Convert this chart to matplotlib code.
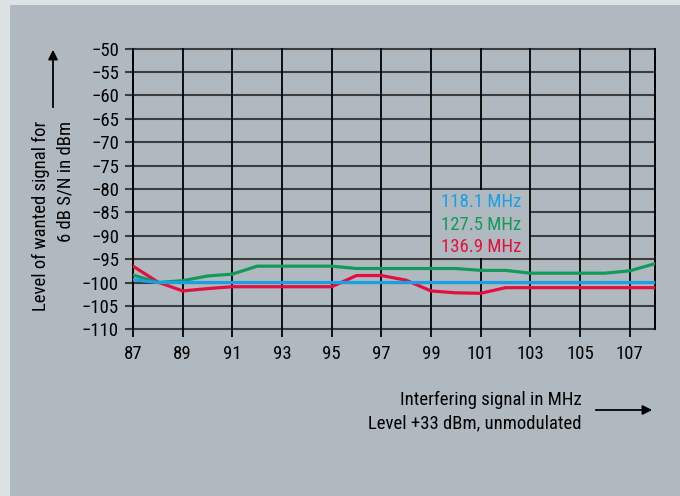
import matplotlib
matplotlib.use("Agg")
import matplotlib.pyplot as plt
from matplotlib.patches import Rectangle, FancyArrowPatch

plt.rcParams['font.family'] = ['Roboto Condensed', 'Archivo Narrow', 'DejaVu Sans']

# Interfering signal frequency (MHz)
freq = [87, 88, 89, 90, 91, 92, 93, 94, 95, 96, 97, 98, 99, 100,
        101, 102, 103, 104, 105, 106, 107, 108]

# Level of wanted signal for 6 dB S/N (dBm)
level_118_1 = [-99.4, -100.0, -100.0, -100.0, -100.0, -100.0, -100.0, -100.0,
               -100.0, -100.0, -100.0, -100.0, -100.0, -100.0, -100.0, -100.0,
               -100.0, -100.0, -100.0, -100.0, -100.0, -100.0]
level_127_5 = [-98.4, -100.0, -99.6, -98.6, -98.2, -96.5, -96.5, -96.5,
               -96.5, -97.0, -97.0, -97.0, -97.0, -97.0, -97.4, -97.4,
               -98.0, -98.0, -98.0, -98.0, -97.5, -96.0]
level_136_9 = [-96.5, -99.9, -101.8, -101.3, -100.9, -100.9, -100.9, -100.9,
               -100.9, -98.5, -98.5, -99.5, -101.8, -102.2, -102.3, -101.1,
               -101.1, -101.1, -101.1, -101.1, -101.1, -101.1]

series_labels = ['118.1 MHz', '127.5 MHz', '136.9 MHz']
series_colors = ['#1a9fe3', '#129a5c', '#e3103f']

x_ticks = list(range(87, 108, 2))
y_ticks = list(range(-110, -49, 5))

FS = 13.5
PANEL = '#b1b9c0'

W, H = 680, 496
fig = plt.figure(figsize=(W / 100, H / 100), dpi=100, facecolor='#dde2e5')
fig.add_artist(Rectangle((10 / W, 0), 1 - 10 / W, 1 - 5 / H,
                         transform=fig.transFigure, facecolor=PANEL,
                         edgecolor='none', zorder=0))

ax = fig.add_axes([133 / W, 1 - 329.3 / H, (654.5 - 133) / W, (329.3 - 48.7) / H])
ax.set_facecolor('none')
ax.set_xlim(87, 108)
ax.set_ylim(-110, -50)

hcol = '#3c3c3c'
for y in y_ticks:
    ax.axhline(y, color=hcol, lw=1.5, zorder=1, clip_on=False)
for x in x_ticks + [108]:
    ax.axvline(x, color='black', lw=1.3, zorder=1, clip_on=False)

for s in ['top', 'bottom']:
    ax.spines[s].set_visible(False)
for s in ['left', 'right']:
    ax.spines[s].set_color('black')
    ax.spines[s].set_linewidth(1.3)

ax.set_xticks(x_ticks)
ax.set_yticks(y_ticks)
ax.tick_params(axis='x', direction='out', length=6, width=1.3, color='black',
               labelsize=FS, pad=5)
ax.tick_params(axis='y', direction='out', length=6, width=1.5, color=hcol,
               labelsize=FS, pad=4)

lines = [level_136_9, level_127_5, level_118_1]
cols = [series_colors[2], series_colors[1], series_colors[0]]
for vals, c in zip(lines, cols):
    ax.plot(freq, vals, color=c, lw=2.3, zorder=3, solid_joinstyle='miter')

# Clear cell behind the series key (grid cells 99..103, -95..-80)
ax.add_patch(Rectangle((99.04, -94.83), 3.92, 14.66, facecolor=PANEL,
                       edgecolor='none', zorder=1.5))
for lab, c, yy in zip(series_labels, series_colors, [-82.7, -87.7, -92.5]):
    ax.text(99.4, yy, lab, color=c, fontsize=FS, ha='left', va='center', zorder=4)

# Axis titles as free text with arrows
fig.text(41 / W, 1 - 121 / H, 'Level of wanted signal for', rotation=90,
         ha='center', va='top', fontsize=FS)
fig.text(65 / W, 1 - 121 / H, '6 dB S/N in dBm', rotation=90,
         ha='center', va='top', fontsize=FS)
fig.add_artist(FancyArrowPatch((53 / W, 1 - 110 / H), (53 / W, 1 - 47 / H),
                               transform=fig.transFigure, arrowstyle='-|>',
                               mutation_scale=14, lw=1.3, color='black'))

fig.text(582 / W, 1 - 400 / H, 'Interfering signal in MHz',
         ha='right', va='center', fontsize=FS)
fig.text(582 / W, 1 - 423 / H, 'Level +33 dBm, unmodulated',
         ha='right', va='center', fontsize=FS)
fig.add_artist(FancyArrowPatch((593 / W, 1 - 410 / H), (655 / W, 1 - 410 / H),
                               transform=fig.transFigure, arrowstyle='-|>',
                               mutation_scale=14, lw=1.3, color='black'))

fig.savefig('out.png', dpi=100, facecolor=fig.get_facecolor())
